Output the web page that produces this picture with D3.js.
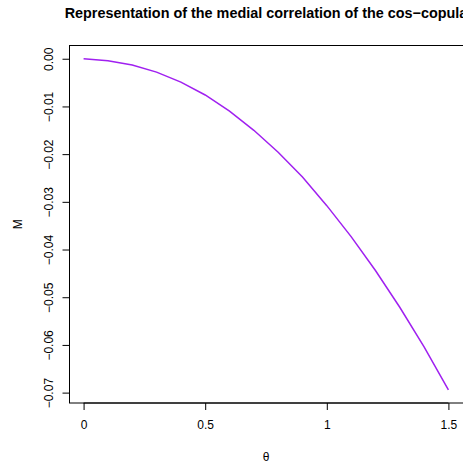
<!DOCTYPE html>
<html>
<head>
<meta charset="utf-8">
<script src="https://cdn.jsdelivr.net/npm/d3@7"></script>
<style>
  body { margin: 0; background: #fff; }
  text { font-family: "Liberation Sans", Arial, sans-serif; }
</style>
</head>
<body>
<div id="chart"></div>
<script>
(function(){
  var width = 463,
      height = 463;

  // theta values and medial correlation M
  var theta = [0, 0.1, 0.2, 0.3, 0.4, 0.5, 0.6, 0.7, 0.8, 0.9, 1.0, 1.1, 1.2, 1.3, 1.4, 1.5]
  var medial = [0, -0.0004, -0.0013, -0.0028, -0.0049, -0.0076, -0.011, -0.015, -0.0196, -0.0248, -0.0308, -0.0373, -0.0444, -0.0521, -0.0604, -0.0694]
  var xTicks = [0, 0.5, 1, 1.5]
  var xTickLabels = ['0', '0.5', '1', '1.5']
  var yTicks = [0, -0.01, -0.02, -0.03, -0.04, -0.05, -0.06, -0.07]
  var yTickLabels = ['0.00', '\u22120.01', '\u22120.02', '\u22120.03', '\u22120.04', '\u22120.05', '\u22120.06', '\u22120.07']

  var box = {left: 69, right: 463, top: 45.5, bottom: 403}

  // R style 4% padding around the data range
  var xmin = d3.min(theta), xmax = d3.max(theta)
  var ymin = d3.min(medial), ymax = d3.max(medial)
  var xpad = (xmax - xmin) * 0.04, ypad = (ymax - ymin) * 0.04

  var x = d3.scaleLinear().domain([xmin - xpad, xmax + xpad]).range([box.left, box.right])
  var y = d3.scaleLinear().domain([ymin - ypad, ymax + ypad]).range([box.bottom, box.top])

  var svg = d3.select('#chart')
    .append('svg')
    .attr('width', width)
    .attr('height', height)

  svg.append('rect')
    .attr('x', box.left + 0.5)
    .attr('y', box.top)
    .attr('width', box.right - box.left)
    .attr('height', box.bottom - box.top)
    .attr('fill', 'none')
    .attr('stroke', '#000')
    .attr('stroke-width', 1)

  var xAxis = d3.axisBottom(x).tickValues(xTicks).tickSize(7).tickPadding(10)
    .tickFormat(function(d, i){ return xTickLabels[i] })
  var gx = svg.append('g')
    .attr('transform', `translate(0,${box.bottom})`)
    .call(xAxis)
  gx.select('.domain').attr('d', `M${x(xTicks[0])},0H${x(xTicks[xTicks.length-1])}`)
  gx.selectAll('text').attr('font-size', 12).attr('font-family', '"Liberation Sans", Arial, sans-serif').attr('fill', '#000')

  var yAxis = d3.axisLeft(y).tickValues(yTicks).tickSize(7).tickPadding(0)
    .tickFormat(function(d, i){ return yTickLabels[i] })
  var gy = svg.append('g')
    .attr('transform', `translate(${box.left + 0.5},0)`)
    .call(yAxis)
  gy.select('.domain').attr('d', `M0,${y(yTicks[0])}V${y(yTicks[yTicks.length-1])}`)
  gy.selectAll('text')
    .attr('font-size', 12)
    .attr('font-family', '"Liberation Sans", Arial, sans-serif')
    .attr('fill', '#000')
    .attr('x', null).attr('dy', null)
    .attr('text-anchor', 'middle')
    .attr('transform', 'translate(-17,0) rotate(-90)')

  var line = d3.line()
    .x(function(d, i){ return x(theta[i]) })
    .y(function(d){ return y(d) })

  svg.append('path')
    .datum(medial)
    .attr('d', line)
    .attr('fill', 'none')
    .attr('stroke', '#A020F0')
    .attr('stroke-width', 1.5)

  // title is clipped at the right edge, as in the reference
  svg.append('text')
    .attr('x', (box.left + box.right) / 2)
    .attr('y', 18)
    .attr('text-anchor', 'middle')
    .attr('font-size', 14.4)
    .attr('font-weight', 'bold')
    .text('Representation of the medial correlation of the cos\u2212copula')

  svg.append('text')
    .attr('x', (box.left + box.right) / 2)
    .attr('y', 461)
    .attr('text-anchor', 'middle')
    .attr('font-size', 12)
    .text('\u03B8')

  svg.append('text')
    .attr('transform', `translate(22,${(box.top + box.bottom) / 2}) rotate(-90)`)
    .attr('text-anchor', 'middle')
    .attr('font-size', 12)
    .text('M')
})()
</script>
</body>
</html>
